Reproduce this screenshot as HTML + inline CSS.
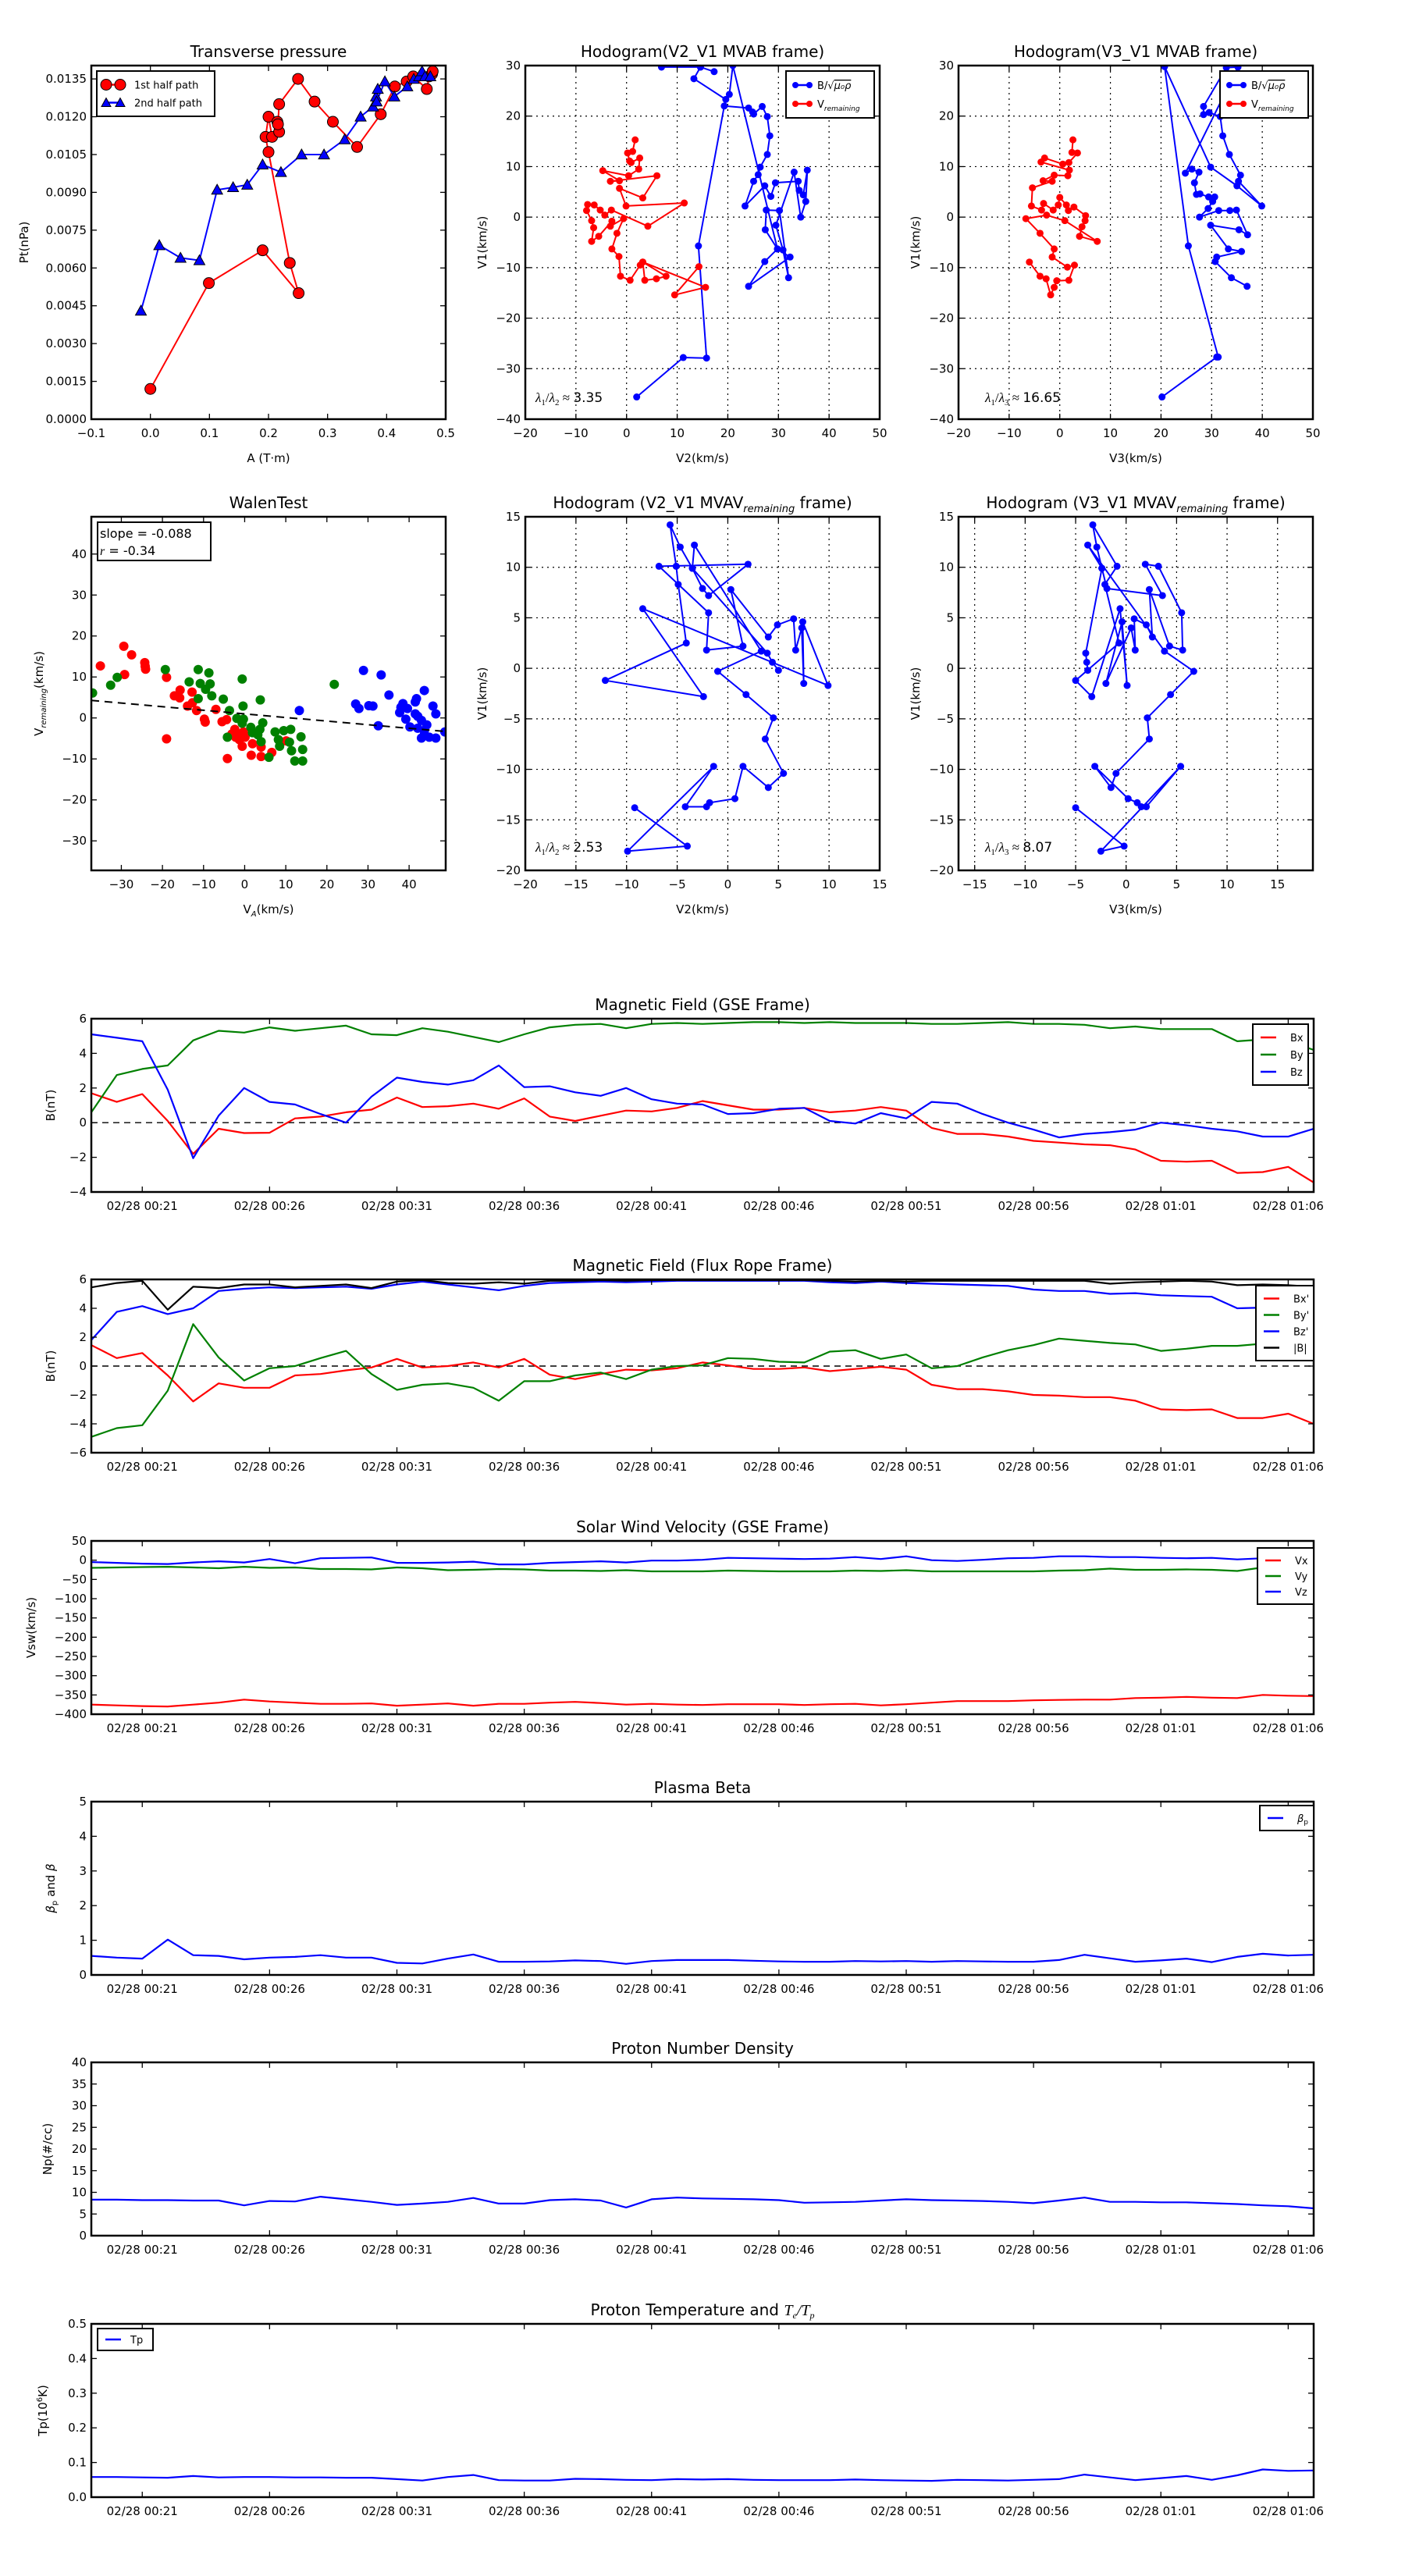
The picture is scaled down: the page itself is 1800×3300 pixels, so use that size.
<!DOCTYPE html>
<html><head><meta charset="utf-8"><title>Flux rope analysis</title>
<style>
html,body{margin:0;padding:0;background:#fff;}
svg{display:block;font-family:"DejaVu Sans","Liberation Sans",sans-serif;}
</style></head>
<body>
<svg id="chart" xmlns="http://www.w3.org/2000/svg" width="1800" height="3300" viewBox="0 0 1800 3300">
<rect x="0" y="0" width="1800" height="3300" fill="#fff"/>
</svg>
<script>
// ---------- data ----------
const timeTickLabels = ["02/28 00:21","02/28 00:26","02/28 00:31","02/28 00:36","02/28 00:41","02/28 00:46","02/28 00:51","02/28 00:56","02/28 01:01","02/28 01:06"];
const timeTickMinutes = [2,7,12,17,22,27,32,37,42,47];
const bxGse = [1.7,1.2,1.65,0.1,-1.8,-0.35,-0.6,-0.58,0.25,0.35,0.6,0.75,1.45,0.9,0.95,1.1,0.8,1.4,0.35,0.1,0.4,0.7,0.65,0.85,1.25,1.0,0.75,0.75,0.85,0.6,0.7,0.9,0.7,-0.3,-0.65,-0.65,-0.8,-1.05,-1.15,-1.25,-1.3,-1.55,-2.2,-2.25,-2.2,-2.9,-2.85,-2.55,-3.45];
const byGse = [0.6,2.75,3.1,3.3,4.75,5.3,5.2,5.5,5.3,5.45,5.6,5.1,5.05,5.45,5.25,4.95,4.65,5.1,5.5,5.65,5.7,5.45,5.7,5.75,5.7,5.75,5.8,5.8,5.75,5.8,5.75,5.75,5.75,5.7,5.7,5.75,5.8,5.7,5.7,5.65,5.45,5.55,5.4,5.4,5.4,4.7,4.8,4.7,4.2];
const bzGse = [5.1,4.9,4.7,1.9,-2.05,0.4,2.0,1.2,1.05,0.5,0.0,1.5,2.6,2.35,2.2,2.45,3.3,2.05,2.1,1.75,1.55,2.0,1.35,1.1,1.05,0.5,0.55,0.8,0.85,0.1,-0.05,0.55,0.25,1.2,1.1,0.5,0.0,-0.4,-0.85,-0.65,-0.55,-0.4,0.0,-0.15,-0.35,-0.5,-0.8,-0.8,-0.35];
const bxFr = [1.45,0.55,0.9,-0.65,-2.45,-1.2,-1.5,-1.5,-0.65,-0.55,-0.3,-0.1,0.5,-0.1,0.0,0.25,-0.1,0.5,-0.6,-0.9,-0.55,-0.25,-0.3,-0.15,0.25,0.05,-0.2,-0.2,-0.1,-0.35,-0.2,-0.05,-0.25,-1.3,-1.6,-1.6,-1.75,-2.0,-2.05,-2.15,-2.15,-2.4,-3.0,-3.05,-3.0,-3.6,-3.6,-3.3,-4.0];
const byFr = [-4.9,-4.3,-4.1,-1.7,2.9,0.6,-1.0,-0.15,0.0,0.55,1.05,-0.55,-1.65,-1.3,-1.2,-1.5,-2.4,-1.05,-1.05,-0.65,-0.45,-0.9,-0.25,0.0,0.05,0.55,0.5,0.3,0.25,1.0,1.1,0.5,0.8,-0.15,0.0,0.6,1.1,1.45,1.9,1.75,1.6,1.5,1.05,1.2,1.4,1.4,1.55,1.75,1.2];
const bzFr = [1.8,3.75,4.15,3.6,4.0,5.2,5.35,5.45,5.4,5.45,5.5,5.35,5.65,5.85,5.65,5.45,5.25,5.55,5.75,5.8,5.85,5.8,5.85,5.9,5.9,5.9,5.9,5.9,5.9,5.8,5.75,5.85,5.75,5.7,5.65,5.6,5.55,5.3,5.2,5.2,5.0,5.05,4.9,4.85,4.8,4.0,4.05,3.9,3.35];
const bMag = [5.45,5.75,5.9,3.9,5.5,5.4,5.65,5.65,5.45,5.55,5.65,5.4,5.85,5.95,5.75,5.7,5.8,5.7,5.9,5.9,5.95,5.9,5.95,5.95,5.95,5.95,5.95,5.95,5.95,5.9,5.85,5.9,5.85,5.9,5.9,5.9,5.9,5.9,5.9,5.9,5.7,5.8,5.85,5.9,5.85,5.6,5.65,5.6,5.5];
const vx = [-375,-377,-379,-380,-375,-370,-362,-367,-370,-373,-373,-372,-378,-375,-372,-378,-373,-373,-370,-368,-371,-375,-373,-375,-376,-374,-374,-374,-376,-374,-373,-377,-374,-370,-366,-366,-366,-364,-363,-362,-362,-358,-357,-355,-357,-358,-350,-352,-353];
const vy = [-20,-19,-18,-17,-19,-21,-17,-20,-19,-23,-23,-24,-19,-21,-26,-25,-23,-24,-27,-27,-28,-26,-29,-29,-29,-27,-28,-29,-29,-29,-27,-28,-26,-29,-29,-29,-29,-29,-27,-26,-22,-25,-25,-24,-25,-28,-19,-20,-17];
const vz = [-5,-7,-9,-10,-6,-3,-6,3,-8,5,6,7,-7,-7,-6,-4,-11,-11,-7,-5,-3,-6,-1,-1,1,6,5,4,3,4,8,3,10,0,-2,1,5,6,10,10,8,8,6,5,6,2,5,5,6];
const betaP = [0.55,0.5,0.47,1.02,0.57,0.55,0.45,0.5,0.52,0.57,0.5,0.5,0.35,0.33,0.47,0.59,0.38,0.38,0.39,0.42,0.40,0.32,0.40,0.43,0.43,0.43,0.41,0.39,0.38,0.38,0.40,0.39,0.40,0.38,0.40,0.39,0.38,0.38,0.43,0.58,0.48,0.38,0.42,0.47,0.37,0.52,0.61,0.56,0.58];
const np = [8.3,8.3,8.2,8.2,8.1,8.1,7.0,8.0,7.9,9.0,8.4,7.8,7.1,7.4,7.8,8.7,7.4,7.4,8.2,8.4,8.1,6.5,8.4,8.8,8.6,8.5,8.4,8.2,7.6,7.7,7.8,8.1,8.4,8.2,8.1,8.0,7.8,7.5,8.1,8.8,7.8,7.8,7.7,7.7,7.5,7.3,7.0,6.8,6.3];
const tp = [0.058,0.058,0.057,0.056,0.061,0.057,0.058,0.058,0.057,0.057,0.056,0.056,0.052,0.048,0.058,0.064,0.049,0.048,0.048,0.053,0.052,0.050,0.049,0.052,0.051,0.052,0.050,0.049,0.049,0.049,0.051,0.049,0.048,0.047,0.050,0.049,0.048,0.050,0.052,0.065,0.057,0.049,0.055,0.061,0.050,0.063,0.080,0.076,0.077];

const ptA1 = [0.0,0.099,0.190,0.251,0.236,0.200,0.195,0.200,0.206,0.215,0.218,0.216,0.218,0.250,0.278,0.309,0.350,0.390,0.414,0.434,0.445,0.468,0.472,0.477,0.478];
const ptP1 = [0.0012,0.0054,0.0067,0.0050,0.0062,0.0106,0.0112,0.0120,0.0112,0.0118,0.0114,0.0117,0.0125,0.0135,0.0126,0.0118,0.0108,0.0121,0.0132,0.0134,0.0136,0.0131,0.0136,0.0137,0.0138];
const ptA2 = [-0.016,0.015,0.051,0.083,0.113,0.140,0.164,0.190,0.221,0.256,0.294,0.329,0.356,0.377,0.382,0.385,0.383,0.397,0.413,0.435,0.446,0.455,0.460,0.465,0.474];
const ptP2 = [0.0043,0.0069,0.0064,0.0063,0.0091,0.0092,0.0093,0.0101,0.0098,0.0105,0.0105,0.0111,0.0120,0.0124,0.0128,0.0131,0.0126,0.0134,0.0128,0.0132,0.0135,0.0136,0.0138,0.0136,0.0136];

const h1Bx = [2,11.2,15.8,14.2,19.3,24.1,24.9,25.1,26.8,27.8,28.3,27.8,26.4,26.0,25.1,23.4,27.3,28.5,29.4,33.9,34.1,34.9,35.7,35.4,34.4,33.1,29.5,30.9,32.0,30.2,27.6,27.4,29.8,32.3,24.1,27.3,29.8,21.0,20.3,19.6,13.3,14.6,17.3,14.6,6.9];
const h1By = [-35.6,-27.8,-27.9,-5.7,22.0,21.6,20.8,20.4,21.9,19.9,16.1,12.4,9.9,8.4,7.1,2.2,6.2,4.1,6.8,7.1,5.3,4.4,9.3,3.1,0,8.9,-1.6,-6.5,-12.0,1.3,1.4,-2.5,-6.3,-7.9,-13.7,-8.8,-6.3,30,24.3,23.3,27.4,29.7,28.8,29.7,29.7];
const h1Vx = [1.7,1.2,0.2,0.6,0.9,2.6,2.4,0.4,-4.7,-1.4,-3.2,6.0,3.2,-1.4,-0.1,11.4,4.2,-3.0,-4.3,-5.2,-6.4,-7.7,-7.9,-6.9,-6.5,-6.9,-5.5,-2.9,-3.2,-0.6,-1.9,-2.9,-1.5,-1.2,0.7,2.7,3.2,3.6,5.9,7.8,3.2,15.6,9.5,14.3];
const h1Vy = [15.3,13,12.7,11.1,10.8,11.7,9.5,8.2,9.2,7.2,7.1,8.2,3.8,5.7,2.2,2.8,-1.8,1.4,0.4,1.4,2.4,2.5,1.3,-0.7,-2.1,-4.8,-3.8,-0.8,-1.8,-0.3,-3.2,-6.3,-7.8,-11.7,-12.5,-9.5,-8.9,-12.5,-12.2,-11.7,-8.9,-13.9,-15.4,-9.8];

const h2Bx = [20.2,31.0,31.3,25.4,20.7,29.8,35.0,39.9,35.3,35.7,33.5,32.2,31.7,29.5,28.4,28.4,32.9,35.2,24.8,26.1,27.5,26.6,27.0,27.7,29.4,30.6,30.2,29.3,27.6,31.4,33.6,34.9,37.1,35.4,29.8,33.3,35.9,31.0,30.7,33.9,37.0];
const h2By = [-35.6,-27.7,-27.7,-5.7,29.8,9.9,6.2,2.2,7.1,8.3,12.4,16.1,19.9,20.7,20.3,21.9,29.6,29.7,8.7,9.5,8.9,6.8,4.5,4.6,4.0,4.0,3.1,1.7,0,1.3,1.3,1.4,-3.5,-2.5,-1.6,-6.3,-6.8,-7.9,-8.8,-12.0,-13.7];
const h2Vx = [2.6,2.4,3.5,1.8,0.6,-3.0,-3.7,1.9,1.6,-1.1,-3.3,-1.5,-5.4,-5.6,-3.6,-3.2,-1.3,-0.3,0.0,1.3,1.7,2.8,5.1,5.0,4.4,3.9,7.4,1.0,-2.6,-6.7,-3.9,-1.1,-1.5,1.5,2.9,1.8,-0.6,-1.1,-1.8,-2.7,-3.9,-6.0];
const h2Vy = [15.3,12.8,12.7,10.8,10.5,11.7,10.9,9.3,8.2,8.3,7.2,7.1,5.8,2.2,1.4,2.7,1.4,2.4,3.9,2.4,1.3,2.0,0.3,-0.7,-1.9,-3.8,-4.8,-0.7,0.4,-0.3,-3.2,-6.3,-7.9,-9.9,-9.5,-12.5,-12.6,-13.9,-15.4,-12.2,-11.7,-8.9];

const walenRedX = [-35.1,-29.4,-29.2,-27.5,-24.3,-24.1,-24.2,-19,-19,-17.1,-15.7,-15.8,-12.8,-12.7,-13.9,-11.7,-9.8,-9.6,-7,-5.5,-4.4,-4.2,-2.4,-1.9,-1.3,-0.6,-0.3,0.1,-2.2,-3.1,1.9,1.6,4,4,6.6,10.1];
const walenRedY = [12.7,17.5,10.6,15.4,13.5,11.9,12.6,9.9,-5.1,5.4,6.8,4.9,6.3,3.7,2.9,1.8,-0.3,-1,2.1,-0.9,-0.4,-9.9,-2.8,-4,-5.3,-6.9,-3.4,-4.7,-4.7,-3.9,-6.3,-9.1,-7.1,-9.4,-8.4,-5.6];
const walenGreenX = [-37,-32.6,-31,-19.3,-11.3,-8.7,-13.5,-10.8,-8.4,-9.5,-8,-11.3,-5.2,-0.6,-0.4,3.8,-3.7,-1.9,-0.3,-0.6,1.5,1.9,3.7,4.4,3.2,4,-4.2,7.4,9.5,11.2,8.2,8.5,10.9,11.4,13.7,14.1,12.2,14.1,5.9,21.8];
const walenGreenY = [6.1,8,9.9,11.8,11.8,11,8.8,8.4,8.3,7,5.4,4.7,4.6,9.5,2.9,4.4,1.8,-0.1,-0.3,-1.3,-2.3,-3.6,-2.8,-1.2,-4.1,-5.8,-4.7,-3.4,-3.1,-2.8,-5.3,-6.9,-5.9,-8,-4.6,-7.7,-10.5,-10.5,-9.6,8.2];
const walenBlueX = [13.3,28.9,33.2,35.1,27,27.8,30.2,31.2,32.5,38.5,38,39.6,37.7,39.2,40.2,41.8,41.5,43.7,41.5,42.1,43,44.3,42.1,43.7,43,44.9,46.5,45.8,46.5,48.7,43.7];
const walenBlueY = [1.8,11.6,10.5,5.6,3.4,2.3,3,2.9,-1.9,3.5,2.6,2.3,1.3,-0.3,-2.2,4.7,3.9,6.7,1,0.4,-0.6,-1.7,-2.5,-3.1,-4.9,-4.7,-4.9,2.9,1,-3.4,-4.1];
const walenSlope = -0.088;
const walenIntercept = 1.0;

const mvavV1 = [-13.8,-17.6,-18.1,-9.7,-13.7,-13.7,-13.3,-12.9,-9.7,-11.8,-10.4,-7.0,-4.9,-2.6,-0.3,1.7,12.2,9.9,12.0,14.2,10.1,8.3,2.5,-1.2,-2.8,5.9,-1.7,4.6,-1.5,4.0,1.8,4.9,4.3,3.1,7.8,2.2,1.8,5.5,10.1,10.3,7.2,7.9,9.9,1.5,0.6,-0.2];
const mvavV2 = [-9.2,-4.0,-9.9,-1.4,-4.2,-2.1,-1.8,0.7,1.5,4.0,5.5,3.7,4.5,1.8,-1.0,3.3,-3.3,-3.5,-4.7,-5.7,-5.1,-4.9,-4.1,-12.1,-2.4,-8.4,9.9,7.4,7.5,7.3,6.7,6.5,4.9,4.0,0.3,1.5,-2.1,-1.9,-6.8,2.0,-1.9,-2.5,-3.5,3.9,4.4,5.0];
const mvavV3 = [-5,-0.2,-2.5,5.4,2,1.5,1.1,0.2,-3.1,-1.5,-1,2.3,2.1,4.4,6.7,3.8,-3.8,-2.4,-2.9,-3.3,-0.9,-2.1,-0.7,-5.0,-3.4,-0.6,0.1,-0.4,-2.0,0.5,0.9,0.8,2.0,2.6,2.3,4.3,5.6,5.5,3.2,1.9,3.6,-1.9,-2.4,-4.0,-3.9,-3.8];

// ---------- helpers ----------
const NS = "http://www.w3.org/2000/svg";
const svg = document.getElementById('chart');
function mk(tag, parent, attrs) {
  const e = document.createElementNS(NS, tag);
  for (const k in attrs) e.setAttribute(k, attrs[k]);
  (parent || svg).appendChild(e);
  return e;
}
function fmt(v, d) { const s = v.toFixed(d); return s.replace('-', '\u2212'); }
let clipId = 0;

function makeAxes(o) {
  const g = mk('g', svg, {});
  
  
  const sx = v => o.x + (v - o.xmin) / (o.xmax - o.xmin) * o.w;
  const sy = v => o.y + o.h - (v - o.ymin) / (o.ymax - o.ymin) * o.h;
  const cid = 'clip' + (clipId++);
  const cp = mk('clipPath', g, {id: cid});
  mk('rect', cp, {x: o.x, y: o.y, width: o.w, height: o.h});
  // grid
  if (o.grid) {
    o.xt.forEach(v => { const gl = mk('line', g, {x1: sx(v), x2: sx(v), y1: o.y, y2: o.y + o.h, stroke: '#000', 'stroke-width': 1.2, 'stroke-dasharray': '2,5'});   });
    o.yt.forEach(v => { const gl = mk('line', g, {x1: o.x, x2: o.x + o.w, y1: sy(v), y2: sy(v), stroke: '#000', 'stroke-width': 1.2, 'stroke-dasharray': '2,5'});   });
  }
  const data = mk('g', g, {'clip-path': 'url(#' + cid + ')'});
  
  
  // ticks
  const tk = 7;
  o.xt.forEach((v, i) => {
    const X = sx(v);
    mk('line', g, {x1: X, x2: X, y1: o.y + o.h, y2: o.y + o.h - tk, stroke: '#000', 'stroke-width': 1.3});
    mk('line', g, {x1: X, x2: X, y1: o.y, y2: o.y + tk, stroke: '#000', 'stroke-width': 1.3});
    const t = mk('text', g, {x: X, y: o.y + o.h + 23, 'text-anchor': 'middle', 'font-size': 15, fill: '#000'});
    t.textContent = o.xtl[i];
    
    
  });
  o.yt.forEach((v, i) => {
    const Y = sy(v);
    mk('line', g, {x1: o.x, x2: o.x + tk, y1: Y, y2: Y, stroke: '#000', 'stroke-width': 1.3});
    mk('line', g, {x1: o.x + o.w, x2: o.x + o.w - tk, y1: Y, y2: Y, stroke: '#000', 'stroke-width': 1.3});
    const t = mk('text', g, {x: o.x - 6, y: Y + 5, 'text-anchor': 'end', 'font-size': 15, fill: '#000'});
    t.textContent = o.ytl[i];
    
    
  });
  // title
  const tt = mk('text', g, {x: o.x + o.w / 2, y: o.y - 11, 'text-anchor': 'middle', 'font-size': 20, fill: '#000'});
  tt.innerHTML = o.title;
  
  
  if (o.xlabel) {
    const xl = mk('text', g, {x: o.x + o.w / 2, y: o.y + o.h + 55, 'text-anchor': 'middle', 'font-size': 15, fill: '#000'});
    xl.innerHTML = o.xlabel;
    
    
  }
  if (o.ylabel) {
    const yl = mk('text', g, {x: 0, y: 0, 'text-anchor': 'middle', 'font-size': 15, fill: '#000', transform: 'translate(' + o.ylx + ',' + (o.y + o.h / 2) + ') rotate(-90)'});
    yl.innerHTML = o.ylabel;
    
    
  }
  const frame = () => {
    const f = mk('rect', g, {x: o.x, y: o.y, width: o.w, height: o.h, fill: 'none', stroke: '#000', 'stroke-width': 2.5});
    
    
  };
  return {g, data, sx, sy, frame, o};
}
function line(ax, xs, ys, color, w, name, dash) {
  const pts = xs.map((v, i) => ax.sx(v).toFixed(1) + ',' + ax.sy(ys[i]).toFixed(1)).join(' ');
  const p = mk('polyline', ax.data, {points: pts, fill: 'none', stroke: color, 'stroke-width': w, 'stroke-linejoin': 'round'});
  if (dash) p.setAttribute('stroke-dasharray', dash);
  
  
  return p;
}
function dots(ax, xs, ys, color, r, name, stroke) {
  xs.forEach((v, i) => {
    const c = mk('circle', ax.data, {cx: ax.sx(v), cy: ax.sy(ys[i]), r: r, fill: color, stroke: stroke || 'none', 'stroke-width': 1});
    
    
  });
}
function tris(ax, xs, ys, color, s, name) {
  xs.forEach((v, i) => {
    const X = ax.sx(v), Y = ax.sy(ys[i]);
    const t = mk('polygon', ax.data, {points: X + ',' + (Y - s) + ' ' + (X - s) + ',' + (Y + s * 0.8) + ' ' + (X + s) + ',' + (Y + s * 0.8), fill: color, stroke: '#000', 'stroke-width': 1});
    
    
  });
}
function legend(ax, x, y, w, entries, rowH, name) {
  const g = mk('g', ax.g, {});
  
  
  mk('rect', g, {x: x, y: y, width: w, height: rowH * entries.length + 12, fill: '#fff', stroke: '#000', 'stroke-width': 2});
  entries.forEach((e, i) => {
    const cy = y + 6 + rowH * (i + 0.5);
    const ln = mk('line', g, {x1: x + 10, x2: x + 30, y1: cy, y2: cy, stroke: e.c, 'stroke-width': 2.5});
    
    
    if (e.m === 'o') { mk('circle', g, {cx: x + 12, cy: cy, r: e.r || 4, fill: e.c, stroke: e.s || 'none'}); mk('circle', g, {cx: x + 30, cy: cy, r: e.r || 4, fill: e.c, stroke: e.s || 'none'}); }
    if (e.m === '^') { [x + 12, x + 30].forEach(X => mk('polygon', g, {points: X + ',' + (cy - 6) + ' ' + (X - 6) + ',' + (cy + 5) + ' ' + (X + 6) + ',' + (cy + 5), fill: e.c, stroke: '#000'})); }
    const t = mk('text', g, {x: x + (e.tx || 40), y: cy + 5, 'font-size': 13, fill: '#000'});
    t.innerHTML = e.t;
    
    
  });
}
function rng(a, b, s) { const r = []; for (let v = a; v <= b + 1e-9; v += s) r.push(Math.round(v * 1e6) / 1e6); return r; }

// ---------- row 1 ----------
const COLX = [117, 673, 1228], COLW = 454;
const R1Y = 84, R2Y = 662, RH = 453;
{
  const yt = rng(0, 0.0135, 0.0015);
  const ax = makeAxes({name: 'transverse-pressure-chart', x: COLX[0], y: R1Y, w: COLW, h: RH, xmin: -0.1, xmax: 0.5, ymin: 0, ymax: 0.01403,
    xt: rng(-0.1, 0.5, 0.1), xtl: rng(-0.1, 0.5, 0.1).map(v => fmt(v, 1)), yt: yt, ytl: yt.map(v => v.toFixed(4)),
    title: 'Transverse pressure', xlabel: 'A (T\u00b7m)', ylabel: 'Pt(nPa)', ylx: 36});
  line(ax, ptA1, ptP1, '#ff0000', 2, 'first-half-path-line');
  line(ax, ptA2, ptP2, '#0000ff', 2, 'second-half-path-line');
  dots(ax, ptA1, ptP1, '#ff0000', 7, 'first-half-point', '#000');
  tris(ax, ptA2, ptP2, '#0000ff', 7, 'second-half-point');
  ax.frame();
  legend(ax, 124, 91, 151, [{c: '#ff0000', m: 'o', r: 7, s: '#000', t: '1st half path', tx: 48}, {c: '#0000ff', m: '^', t: '2nd half path', tx: 48}], 23, 'pressure-legend');
}
function hodo(col, row, name, title, xlabel, xmin, xmax, ymin, ymax, xt, yt) {
  return makeAxes({name: name, x: COLX[col], y: row, w: COLW, h: RH, xmin, xmax, ymin, ymax,
    xt: xt, xtl: xt.map(v => fmt(v, 0)), yt: yt, ytl: yt.map(v => fmt(v, 0)), grid: true,
    title: title, xlabel: xlabel, ylabel: 'V1(km/s)', ylx: COLX[col] - 50});
}
function lam(ax, x, y, sub, val) {
  const t = mk('text', ax.g, {x: x, y: y, 'font-size': 17, fill: '#000', 'font-family': 'Liberation Serif, serif'});
  t.innerHTML = '<tspan font-style="italic">\u03bb</tspan><tspan font-size="11" dy="4">1</tspan><tspan dy="-4">/</tspan><tspan font-style="italic">\u03bb</tspan><tspan font-size="11" dy="4">' + sub + '</tspan><tspan dy="-4"> \u2248 </tspan><tspan font-family="DejaVu Sans, sans-serif">' + val + '</tspan>';
  
  
}
const vremTxt = 'V<tspan font-size="9" font-style="italic" dy="4">remaining</tspan>';
const bTxt = 'B/\u221a<tspan font-style="italic" text-decoration="overline">\u03bc\u2080\u03c1</tspan>';
{
  const ax = hodo(1, R1Y, 'hodogram-v2-v1-mvab', 'Hodogram(V2_V1 MVAB frame)', 'V2(km/s)', -20, 50, -40, 30, rng(-20, 50, 10), rng(-40, 30, 10));
  line(ax, h1Bx, h1By, '#0000ff', 2, 'b-alfven-path');
  dots(ax, h1Bx, h1By, '#0000ff', 4.5, 'b-alfven-point');
  line(ax, h1Vx, h1Vy, '#ff0000', 2, 'v-remaining-path');
  dots(ax, h1Vx, h1Vy, '#ff0000', 4.5, 'v-remaining-point');
  ax.frame();
  legend(ax, 1007, 91, 113, [{c: '#0000ff', m: 'o', t: bTxt}, {c: '#ff0000', m: 'o', t: vremTxt}], 24, 'hodogram-legend');
  lam(ax, 686, 515, '2', '3.35');
}
{
  const ax = hodo(2, R1Y, 'hodogram-v3-v1-mvab', 'Hodogram(V3_V1 MVAB frame)', 'V3(km/s)', -20, 50, -40, 30, rng(-20, 50, 10), rng(-40, 30, 10));
  line(ax, h2Bx, h2By, '#0000ff', 2, 'b-alfven-path');
  dots(ax, h2Bx, h2By, '#0000ff', 4.5, 'b-alfven-point');
  line(ax, h2Vx, h2Vy, '#ff0000', 2, 'v-remaining-path');
  dots(ax, h2Vx, h2Vy, '#ff0000', 4.5, 'v-remaining-point');
  ax.frame();
  legend(ax, 1563, 91, 113, [{c: '#0000ff', m: 'o', t: bTxt}, {c: '#ff0000', m: 'o', t: vremTxt}], 24, 'hodogram-legend');
  lam(ax, 1262, 515, '3', '16.65');
}
// ---------- row 2 ----------
{
  const t = rng(-30, 40, 10);
  const ax = makeAxes({name: 'walen-test-chart', x: COLX[0], y: R2Y, w: COLW, h: RH, xmin: -37.3, xmax: 48.9, ymin: -37.2, ymax: 49.1,
    xt: t, xtl: t.map(v => fmt(v, 0)), yt: t, ytl: t.map(v => fmt(v, 0)),
    title: 'WalenTest', xlabel: 'V<tspan font-size="10" font-style="italic" dy="4">A</tspan><tspan dy="-4">(km/s)</tspan>', ylabel: 'V<tspan font-size="10" font-style="italic" dy="4">remaining</tspan><tspan dy="-4">(km/s)</tspan>', ylx: 55});
  dots(ax, walenRedX, walenRedY, '#ff0000', 6, 'walen-point-x');
  dots(ax, walenGreenX, walenGreenY, '#008000', 6, 'walen-point-y');
  dots(ax, walenBlueX, walenBlueY, '#0000ff', 6, 'walen-point-z');
  line(ax, [-37.3, 48.9], [walenSlope * -37.3 + walenIntercept, walenSlope * 48.9 + walenIntercept], '#000', 2, 'walen-fit-line', '10,7');
  ax.frame();
  const bx = mk('g', ax.g, {});
  
  
  mk('rect', bx, {x: 125, y: 669, width: 145, height: 49, fill: '#fff', stroke: '#000', 'stroke-width': 2});
  const t1 = mk('text', bx, {x: 128, y: 689, 'font-size': 16, fill: '#000'}); t1.textContent = 'slope = -0.088';
  const t2 = mk('text', bx, {x: 128, y: 711, 'font-size': 16, fill: '#000'}); t2.innerHTML = '<tspan font-style="italic" font-family="Liberation Serif, serif">r</tspan> = -0.34';
}
{
  const ax = hodo(1, R2Y, 'hodogram-v2-v1-mvav', 'Hodogram (V2_V1 MVAV<tspan font-size="13" font-style="italic" dy="5">remaining</tspan><tspan dy="-5"> frame)</tspan>', 'V2(km/s)', -20, 15, -20, 15, rng(-20, 15, 5), rng(-20, 15, 5));
  line(ax, mvavV2, mvavV1, '#0000ff', 2, 'b-alfven-path');
  dots(ax, mvavV2, mvavV1, '#0000ff', 4.5, 'b-alfven-point');
  ax.frame();
  lam(ax, 686, 1091, '2', '2.53');
}
{
  const ax = hodo(2, R2Y, 'hodogram-v3-v1-mvav', 'Hodogram (V3_V1 MVAV<tspan font-size="13" font-style="italic" dy="5">remaining</tspan><tspan dy="-5"> frame)</tspan>', 'V3(km/s)', -16.6, 18.5, -20, 15, rng(-15, 15, 5), rng(-20, 15, 5));
  line(ax, mvavV3, mvavV1, '#0000ff', 2, 'b-alfven-path');
  dots(ax, mvavV3, mvavV1, '#0000ff', 4.5, 'b-alfven-point');
  ax.frame();
  lam(ax, 1262, 1091, '3', '8.07');
}
// ---------- time series ----------
const TSX = 117, TSW = 1566, TSH = 222;
const TSY = [1305, 1639, 1974, 2308, 2642, 2977];
const idx = bxGse.map((_, i) => i);
function ts(i, name, title, ymin, ymax, yt, ytl, ylabel, ylx) {
  return makeAxes({name: name, x: TSX, y: TSY[i], w: TSW, h: TSH, xmin: 0, xmax: 48, ymin, ymax,
    xt: timeTickMinutes, xtl: timeTickLabels, yt: yt, ytl: ytl, title: title, ylabel: ylabel, ylx: ylx});
}
{
  const yt = rng(-4, 6, 2);
  const ax = ts(0, 'magnetic-field-gse-chart', 'Magnetic Field (GSE Frame)', -4, 6, yt, yt.map(v => fmt(v, 0)), 'B(nT)', 70);
  line(ax, [0, 48], [0, 0], '#000', 1.3, 'zero-line', '8,6');
  line(ax, idx, bxGse, '#ff0000', 2.2, 'bx-line');
  line(ax, idx, byGse, '#008000', 2.2, 'by-line');
  line(ax, idx, bzGse, '#0000ff', 2.2, 'bz-line');
  ax.frame();
  legend(ax, 1605, 1312, 71, [{c: '#ff0000', t: 'Bx', tx: 48}, {c: '#008000', t: 'By', tx: 48}, {c: '#0000ff', t: 'Bz', tx: 48}], 22, 'gse-legend');
}
{
  const yt = rng(-6, 6, 2);
  const ax = ts(1, 'magnetic-field-flux-rope-chart', 'Magnetic Field (Flux Rope Frame)', -6, 6, yt, yt.map(v => fmt(v, 0)), 'B(nT)', 70);
  line(ax, [0, 48], [0, 0], '#000', 1.6, 'zero-line', '8,6');
  line(ax, idx, bxFr, '#ff0000', 2.2, 'bx-prime-line');
  line(ax, idx, byFr, '#008000', 2.2, 'by-prime-line');
  line(ax, idx, bzFr, '#0000ff', 2.2, 'bz-prime-line');
  line(ax, idx, bMag, '#000', 2.2, 'b-magnitude-line');
  ax.frame();
  legend(ax, 1609, 1647, 74, [{c: '#ff0000', t: "Bx'", tx: 48}, {c: '#008000', t: "By'", tx: 48}, {c: '#0000ff', t: "Bz'", tx: 48}, {c: '#000', t: '|B|', tx: 48}], 21, 'flux-rope-legend');
}
{
  const yt = rng(-400, 50, 50);
  const ax = ts(2, 'solar-wind-velocity-chart', 'Solar Wind Velocity (GSE Frame)', -400, 50, yt, yt.map(v => fmt(v, 0)), 'Vsw(km/s)', 45);
  line(ax, idx, vx, '#ff0000', 2.2, 'vx-line');
  line(ax, idx, vy, '#008000', 2.2, 'vy-line');
  line(ax, idx, vz, '#0000ff', 2.2, 'vz-line');
  ax.frame();
  legend(ax, 1611, 1983, 72, [{c: '#ff0000', t: 'Vx', tx: 48}, {c: '#008000', t: 'Vy', tx: 48}, {c: '#0000ff', t: 'Vz', tx: 48}], 20, 'velocity-legend');
}
{
  const yt = rng(0, 5, 1);
  const ax = ts(3, 'plasma-beta-chart', 'Plasma Beta', 0, 5, yt, yt.map(v => fmt(v, 0)), '<tspan font-style="italic">\u03b2</tspan><tspan font-size="10" dy="3">p</tspan><tspan dy="-3"> and </tspan><tspan font-style="italic">\u03b2</tspan>', 70);
  line(ax, idx, betaP, '#0000ff', 2.2, 'beta-p-line');
  ax.frame();
  legend(ax, 1614, 2313, 69, [{c: '#0000ff', t: '<tspan font-style="italic">\u03b2</tspan><tspan font-size="9" dy="3">p</tspan>', tx: 48}], 20, 'beta-legend');
}
{
  const yt = rng(0, 40, 5);
  const ax = ts(4, 'proton-density-chart', 'Proton Number Density', 0, 40, yt, yt.map(v => fmt(v, 0)), 'Np(#/cc)', 66);
  line(ax, idx, np, '#0000ff', 2.2, 'np-line');
  ax.frame();
}
{
  const yt = rng(0, 0.5, 0.1);
  const ax = ts(5, 'proton-temperature-chart', 'Proton Temperature and <tspan font-style="italic" font-family="Liberation Serif, serif">T<tspan font-size="12" dy="4">e</tspan><tspan dy="-4">/T</tspan><tspan font-size="12" dy="4">p</tspan></tspan>', 0, 0.5, yt, yt.map(v => v.toFixed(1)), 'Tp(10<tspan font-size="10" dy="-6">6</tspan><tspan dy="6">K)</tspan>', 60);
  line(ax, idx, tp, '#0000ff', 2.2, 'tp-line');
  ax.frame();
  legend(ax, 125, 2983, 71, [{c: '#0000ff', t: 'Tp', tx: 42}], 16, 'tp-legend');
}
</script>
</body></html>
